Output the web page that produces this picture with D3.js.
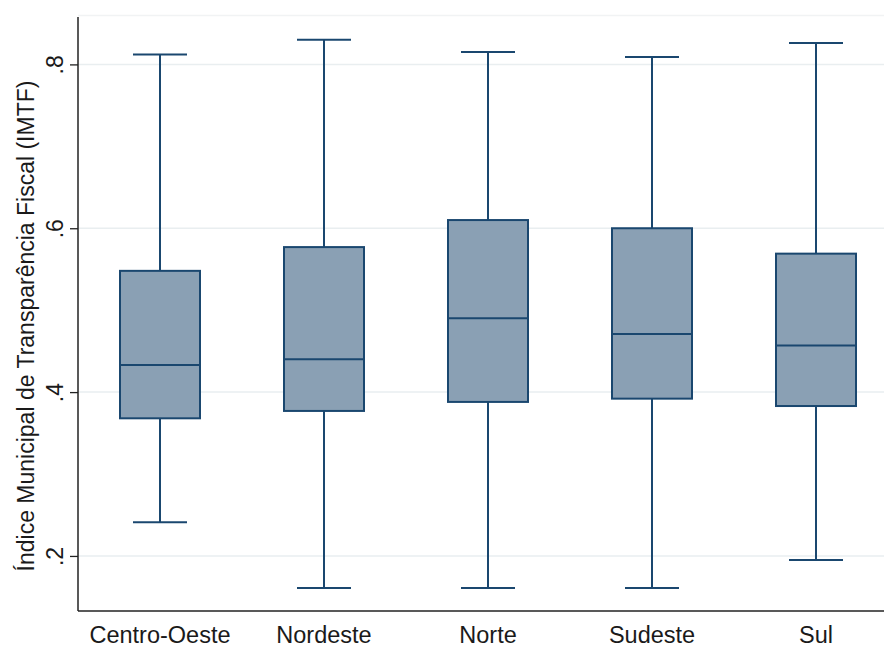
<!DOCTYPE html>
<html>
<head>
<meta charset="utf-8">
<script src="https://cdn.jsdelivr.net/npm/d3@7"></script>
<style>
  html, body { margin: 0; padding: 0; background: #fff; }
  svg { display: block; font-family: "Liberation Sans", Arial, sans-serif; }
</style>
</head>
<body>
<svg id="chart" width="884" height="648"></svg>
<script>
const categories = ["Centro-Oeste", "Nordeste", "Norte", "Sudeste", "Sul"];
const whiskerLow  = [0.241, 0.161, 0.161, 0.161, 0.195];
const q1          = [0.368, 0.377, 0.388, 0.392, 0.383];
const median      = [0.433, 0.440, 0.490, 0.471, 0.457];
const q3          = [0.548, 0.577, 0.610, 0.600, 0.569];
const whiskerHigh = [0.812, 0.830, 0.815, 0.809, 0.826];
const yTicks = [0.2, 0.4, 0.6, 0.8];
const yTitle = "Índice Municipal de Transparência Fiscal (IMTF)";

const data = categories.map((c, i) => ({
  cat: c, lo: whiskerLow[i], q1: q1[i], med: median[i], q3: q3[i], hi: whiskerHigh[i]
}));

const svg = d3.select("#chart");
const mLeft = 78, mRight = 898, mTop = 15, mBottom = 611;

const x = d3.scaleBand().domain(categories).range([mLeft, mRight]).padding(0);
const y = d3.scaleLinear().domain([0.1328, 0.8603]).range([mBottom, mTop]);

const stroke = "#1a476f";
const fill = "#8aa0b4";
const boxW = 80, capW = 54;

// top faint border
svg.append("line").attr("x1", mLeft).attr("x2", 884).attr("y1", mTop + 0.5).attr("y2", mTop + 0.5)
  .attr("stroke", "#f1f3f4").attr("stroke-width", 1.5);

// gridlines
svg.append("g").selectAll("line").data(yTicks).join("line")
  .attr("x1", mLeft).attr("x2", 884)
  .attr("y1", d => y(d)).attr("y2", d => y(d))
  .attr("stroke", "#e9eef0").attr("stroke-width", 1.5);

// boxes
const g = svg.append("g");
const cx = d => x(d.cat) + x.bandwidth() / 2;

g.selectAll(".whisk").data(data).join("line")
  .attr("x1", cx).attr("x2", cx)
  .attr("y1", d => y(d.hi)).attr("y2", d => y(d.lo))
  .attr("stroke", stroke).attr("stroke-width", 2);

g.selectAll(".capHi").data(data).join("line")
  .attr("x1", d => cx(d) - capW / 2).attr("x2", d => cx(d) + capW / 2)
  .attr("y1", d => y(d.hi)).attr("y2", d => y(d.hi))
  .attr("stroke", stroke).attr("stroke-width", 2);

g.selectAll(".capLo").data(data).join("line")
  .attr("x1", d => cx(d) - capW / 2).attr("x2", d => cx(d) + capW / 2)
  .attr("y1", d => y(d.lo)).attr("y2", d => y(d.lo))
  .attr("stroke", stroke).attr("stroke-width", 2);

g.selectAll(".box").data(data).join("rect")
  .attr("x", d => cx(d) - boxW / 2).attr("width", boxW)
  .attr("y", d => y(d.q3)).attr("height", d => y(d.q1) - y(d.q3))
  .attr("fill", fill).attr("stroke", stroke).attr("stroke-width", 2);

g.selectAll(".med").data(data).join("line")
  .attr("x1", d => cx(d) - boxW / 2).attr("x2", d => cx(d) + boxW / 2)
  .attr("y1", d => y(d.med)).attr("y2", d => y(d.med))
  .attr("stroke", stroke).attr("stroke-width", 2);

// y axis
const yAxis = d3.axisLeft(y).tickValues(yTicks).tickSize(8).tickPadding(6)
  .tickFormat(d => d3.format(".1f")(d).replace(/^0/, ""));
const ya = svg.append("g").attr("transform", `translate(${mLeft},0)`).call(yAxis);
ya.select(".domain").remove();
ya.selectAll(".tick line").attr("stroke", "#222").attr("stroke-width", 1.3);
ya.selectAll(".tick text")
  .attr("x", null).attr("dy", null)
  .attr("text-anchor", "middle")
  .attr("transform", "translate(-15,0) rotate(-90)")
  .attr("font-size", 23).attr("fill", "#1a1a1a");
svg.append("line").attr("x1", mLeft).attr("x2", mLeft).attr("y1", 17).attr("y2", mBottom)
  .attr("stroke", "#222").attr("stroke-width", 1.5);

// x axis
const xAxis = d3.axisBottom(x).tickSize(0).tickPadding(15);
const xa = svg.append("g").attr("transform", `translate(0,${mBottom})`).call(xAxis);
xa.select(".domain").remove();
xa.selectAll(".tick text").attr("font-size", 23.5).attr("fill", "#1a1a1a");
svg.append("line").attr("x1", mLeft).attr("x2", 884).attr("y1", mBottom).attr("y2", mBottom)
  .attr("stroke", "#222").attr("stroke-width", 1.5);

// y title
svg.append("text")
  .attr("transform", `translate(34,${(17 + mBottom) / 2 + 12}) rotate(-90)`)
  .attr("text-anchor", "middle")
  .attr("font-size", 23).attr("fill", "#1a1a1a")
  .text(yTitle);
</script>
</body>
</html>
